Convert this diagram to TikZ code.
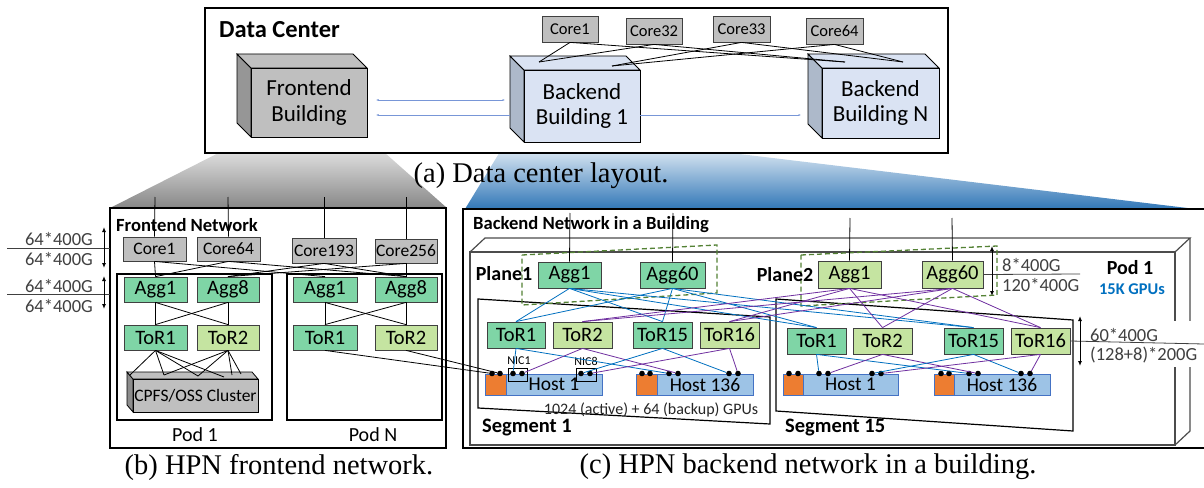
\documentclass[tikz,border=0pt]{standalone}
\usepackage{fontspec}
\setmainfont{Carlito}
\newfontfamily\serifcap{Liberation Serif}
\usetikzlibrary{arrows.meta}
\definecolor{coreg}{RGB}{191,191,191}
\definecolor{aggg}{RGB}{127,213,166}
\definecolor{torlg}{RGB}{197,228,161}
\definecolor{hostb}{RGB}{157,195,230}
\definecolor{hostbd}{RGB}{68,114,196}
\definecolor{orng}{RGB}{237,125,49}
\definecolor{lblue}{RGB}{0,112,192}
\definecolor{lpurp}{RGB}{112,48,160}
\definecolor{dgreen}{RGB}{84,130,53}
\definecolor{txtg}{RGB}{64,64,64}
\definecolor{cubeb}{RGB}{218,227,243}
\definecolor{cubebs}{RGB}{173,185,202}
\definecolor{cubegs}{RGB}{150,150,150}
\definecolor{shblue}{RGB}{46,117,182}
\definecolor{harrc}{RGB}{120,150,215}
\newcommand\fs[1]{\fontsize{#1}{#1}\selectfont}
\newcommand\bx[7]{\node[#6, minimum width={(#4-#2)*1pt}, minimum height={(#5-#3)*1pt}] (#1) at ({(#2+#4)/2},{(#3+#5)/2}) {#7};}
\newcommand\cubex[9]{%
  \filldraw[fill=#8, cubeline] (#2,#3) -- ({#2-#6},{#3-#6}) -- ({#2-#6},{#5-#6}) -- (#2,#5) -- cycle;
  \filldraw[fill=#7, cubeline] (#2,#3) -- ({#2-#6},{#3-#6}) -- ({#4-#6},{#3-#6}) -- (#4,#3) -- cycle;
  \bx{#1}{#2}{#3}{#4}{#5}{cubefront, fill=#7}{#9}}
\begin{document}
\begin{tikzpicture}[x=1pt,y=-1pt,
  sw/.style={draw=black!75, line width=0.8pt, inner sep=0pt},
  corebox/.style={sw, fill=coreg, font=\fs{17.5}},
  aggbox/.style={sw, fill=aggg, font=\fs{20.5}},
  ltbox/.style={sw, fill=torlg, font=\fs{20.5}},
  hostbox/.style={draw=hostbd, line width=0.7pt, fill=hostb, inner sep=0pt, font=\fs{19.5}},
  orbox/.style={draw=hostbd, line width=0.7pt, fill=orng, inner sep=0pt},
  cubeline/.style={draw=black, line width=0.8pt},
  cubefront/.style={draw=black, line width=0.8pt, inner sep=0pt, align=center, font=\fontsize{23}{25.5}\selectfont},
  conn/.style={line width=0.8pt, draw=black},
  bconn/.style={line width=0.8pt, draw=lblue},
  pconn/.style={line width=0.8pt, draw=lpurp},
  harr/.style={line width=0.7pt, draw=harrc},
  darr/.style={line width=1pt, {Latex[length=5pt,width=4pt]}-{Latex[length=5pt,width=4pt]}},
  dotn/.style={circle, fill=black, inner sep=0pt, minimum size=5.6pt},
  lbl/.style={inner sep=0pt, font=\fs{18.5}, text=txtg},
  flbl/.style={inner sep=0pt, font=\fs{18.5}, text=txtg},
  ttl/.style={inner sep=0pt, anchor=west, font=\bfseries\fs{18.6}},
  captxt/.style={inner sep=0pt, font=\serifcap\fs{28.5}},
  planebox/.style={draw=dgreen, line width=1.3pt, dash pattern=on 5pt off 3pt},
  podline/.style={draw=black!70, line width=1.2pt}]
\useasboundingbox (0,0) rectangle (1204,487);
% projection shadings
\shade[top color=black!4, bottom color=black!47] (250,137) -- (367,137) -- (447,208) -- (110,208) -- cycle;
\shade[top color=white, bottom color=shblue] (509,137) -- (640,142) -- (1204,210) -- (465,209) -- cycle;
% ---------------- (a) data center -------------
\filldraw[fill=white, draw=black, line width=1.3pt] (205,8) rectangle (948,153);
\node[inner sep=0pt, anchor=west, font=\bfseries\fs{24.5}] (dct) at (219,30) {Data Center};
\cubex{fe}{251}{68}{367}{137}{14}{coreg}{cubegs}{Frontend\\Building}
\cubex{bb1}{524}{70}{640}{142}{14}{cubeb}{cubebs}{Backend\\Building 1}
\cubex{bbn}{822}{68}{939}{138}{14}{cubeb}{cubebs}{Backend\\Building N}
\bx{c1}{542}{16}{598}{42}{corebox, font=\fs{16.5}}{Core1}
\bx{c32}{626}{18}{682}{44}{corebox, font=\fs{16.5}}{Core32}
\bx{c33}{713}{16}{770}{42}{corebox, font=\fs{16.5}}{Core33}
\bx{c64}{806}{18}{863}{44}{corebox, font=\fs{16.5}}{Core64}
\coordinate (b1p) at (539,62);
\coordinate (b1q) at (612,66);
\coordinate (bnp) at (845,62);
\coordinate (bnq) at (903,62);
\draw[conn] (c1.south) -- (b1p);
\draw[conn] (c32.south) -- (b1p);
\draw[conn] (c33.south) -- (b1q);
\draw[conn] (c64.south) -- (b1q);
\draw[conn] (c1.south) -- (bnp);
\draw[conn] (c32.south) -- (bnp);
\draw[conn] (c33.south) -- (bnq);
\draw[conn] (c64.south) -- (bnq);
\coordinate (h1a) at (376,100);
\coordinate (h1b) at (505,100);
\coordinate (h2a) at (376,115);
\coordinate (h2b) at (510,115);
\coordinate (h3a) at (640,115);
\coordinate (h3b) at (801,115);
\draw[harr, {Latex[length=2.5pt,width=2pt]}-{Latex[length=2.5pt,width=2pt]}] (h1a) -- (h1b);
\draw[harr, {Latex[length=2.5pt,width=2pt]}-] (h2a) -- (h2b);
\draw[harr, -{Latex[length=2.5pt,width=2pt]}] (h3a) -- (h3b);
\node[captxt] (capa) at (541,176) {(a) Data center layout.};
% ---------------- (b) frontend -------------
\filldraw[fill=white, draw=black, line width=1.3pt] (110,208) rectangle (446,448);
\node[ttl] (fnt) at (116,225) {Frontend Network};
\draw[line width=1.2pt] (117,274) rectangle (272,420);
\draw[line width=1.2pt] (287,274) rectangle (442,420);
\node[inner sep=0pt, font=\fs{20}] (pod1l) at (195,435) {Pod 1};
\node[inner sep=0pt, font=\fs{20}] (podnl) at (373,435) {Pod N};
\bx{fc1}{123}{237}{186}{261}{corebox}{Core1}
\bx{fc64}{197}{237}{260}{261}{corebox}{Core64}
\bx{fc193}{292}{238}{356}{263}{corebox}{Core193}
\bx{fc256}{375}{239}{437}{263}{corebox}{Core256}
\foreach \n/\x in {fc1/155, fc64/228, fc193/324, fc256/406} {
  \coordinate (\n top) at (\x,197);
  \draw[conn] (\n top) -- (\n.north);
}
\bx{pa1}{124}{277}{187}{302}{aggbox}{Agg1}
\bx{pa8}{197}{277}{259}{302}{aggbox}{Agg8}
\bx{qa1}{293}{277}{357}{302}{aggbox}{Agg1}
\bx{qa8}{375}{277}{437}{302}{aggbox}{Agg8}
\bx{pt1}{124}{325}{187}{350}{aggbox}{ToR1}
\bx{pt2}{197}{325}{259}{350}{ltbox}{ToR2}
\bx{qt1}{293}{325}{357}{350}{aggbox}{ToR1}
\bx{qt2}{375}{325}{437}{350}{ltbox}{ToR2}
\draw[conn] (fc1.south) -- (pa1.north);
\draw[conn] (fc1.south) -- (qa1.north);
\draw[conn] (fc64.south) -- (pa1.north);
\draw[conn] (fc64.south) -- (qa8.north);
\draw[conn] (fc193.south) -- (pa8.north);
\draw[conn] (fc193.south) -- (qa8.north);
\draw[conn] (fc256.south) -- (pa8.north);
\draw[conn] (fc256.south) -- (qa8.north);
\foreach \a/\b in {pa1/pt1, pa1/pt2, pa8/pt1, pa8/pt2, qa1/qt1, qa1/qt2, qa8/qt1, qa8/qt2}
  \draw[conn] (\a.south) -- (\b.north);
% CPFS cube
\filldraw[fill=black!45, cubeline] (133,379) -- (127,372) -- (127,405) -- (133,412) -- cycle;
\filldraw[fill=coreg, cubeline] (133,379) -- (127,372) -- (252,372) -- (258,379) -- cycle;
\bx{cpfs}{133}{379}{258}{412}{sw, draw=black, fill=coreg, font=\fs{17.5}}{CPFS/OSS Cluster}
\coordinate (cp1) at (130,375);
\coordinate (cp2) at (164,375);
\coordinate (cp3) at (198,376);
\coordinate (cp4) at (224,377);
\coordinate (cp5) at (232,375);
\coordinate (cp6) at (241,374);
\foreach \c in {cp1,cp2,cp3,cp4} \draw[conn] (pt1.south) -- (\c);
\foreach \c in {cp2,cp3,cp5,cp6} \draw[conn] (pt2.south) -- (\c);
% left labels
\node[flbl] (l1) at (59,239) {64*400G};
\node[flbl] (l2) at (59,259) {64*400G};
\node[flbl] (l3) at (59,286) {64*400G};
\node[flbl] (l4) at (59,306) {64*400G};
\coordinate (ln1a) at (7,248); \coordinate (ln1b) at (110,248);
\coordinate (ln2a) at (7,294); \coordinate (ln2b) at (110,294);
\draw[line width=0.8pt, draw=txtg] (ln1a) -- (ln1b);
\draw[line width=0.8pt, draw=txtg] (ln2a) -- (ln2b);
\coordinate (ar1a) at (104,227); \coordinate (ar1b) at (104,268);
\coordinate (ar2a) at (104,276); \coordinate (ar2b) at (104,309);
\draw[darr] (ar1a) -- (ar1b);
\draw[darr] (ar2a) -- (ar2b);
\node[captxt] (capb) at (279,467) {(b) HPN frontend network.};
% ---------------- (c) backend -------------
\fill[white] (463,209) rectangle (1204,448);
\draw[line width=1.3pt] (1204,209) -- (463,209) -- (463,448) -- (1204,448);
\node[ttl] (bnt) at (473,225) {Backend Network in a Building};
% pod 3d box
\draw[podline] (470,252) rectangle (1175,445);
\draw[podline] (470,252) -- (485,238) -- (1190,238) -- (1175,252);
\draw[podline] (1190,238) -- (1190,431) -- (1175,445);
% segments
\filldraw[fill=white, draw=black, line width=1.2pt] (478,299) -- (770,317) -- (770,424) -- (478,408) -- cycle;
\filldraw[fill=white, draw=black, line width=1.2pt] (776,299) -- (1073,320) -- (1073,431) -- (776,411) -- cycle;
% vertical lines from above to aggs
\coordinate (v1) at (570,213);
\coordinate (v2) at (673,213);
\coordinate (v3) at (850,218);
\coordinate (v4) at (952,218);
% plane boxes
\draw[planebox] (522,255) -- (717,245) -- (717,293) -- (522,305) -- cycle;
\draw[planebox] (801,255) -- (997,246) -- (997,295) -- (801,306) -- cycle;
\node[inner sep=0pt, font=\bfseries\fs{20}] (pl1) at (504,274) {Plane1};
\node[inner sep=0pt, font=\bfseries\fs{20}] (pl2) at (785,275) {Plane2};
\bx{ba1}{538}{262}{601}{288}{aggbox}{Agg1}
\bx{ba60}{640}{262}{705}{288}{aggbox}{Agg60}
\bx{ca1}{818}{261}{881}{288}{ltbox}{Agg1}
\bx{ca60}{922}{261}{983}{288}{ltbox}{Agg60}
\draw[conn] (v1) -- (ba1.north);
\draw[conn] (v2) -- (ba60.north);
\draw[conn] (v3) -- (ca1.north);
\draw[conn] (v4) -- (ca60.north);
\bx{s1t1}{487}{322}{545}{348}{aggbox}{ToR1}
\bx{s1t2}{553}{322}{612}{348}{ltbox}{ToR2}
\bx{s1t15}{633}{322}{692}{348}{aggbox}{ToR15}
\bx{s1t16}{700}{322}{759}{348}{ltbox}{ToR16}
\bx{s2t1}{787}{328}{846}{354}{aggbox}{ToR1}
\bx{s2t2}{853}{328}{912}{354}{ltbox}{ToR2}
\bx{s2t15}{944}{328}{1003}{354}{aggbox}{ToR15}
\bx{s2t16}{1011}{328}{1070}{354}{ltbox}{ToR16}
% agg-tor links
\foreach \a in {ba1,ba60} \foreach \t in {s1t1,s1t15,s2t1,s2t15}
  \draw[bconn] (\a.south) -- (\t.north);
\foreach \a in {ca1,ca60} \foreach \t in {s1t2,s1t16,s2t2,s2t16}
  \draw[pconn] (\a.south) -- (\t.north);
% hosts
\bx{h1o}{485}{374}{506}{395}{orbox}{}
\bx{h1}{506}{374}{602}{395}{hostbox}{Host 1}
\bx{h2o}{636}{374}{657}{395}{orbox}{}
\bx{h2}{657}{374}{753}{395}{hostbox}{Host 136}
\bx{g1o}{783}{374}{803}{395}{orbox}{}
\bx{g1}{803}{374}{898}{395}{hostbox}{Host 1}
\bx{g2o}{934}{374}{954}{395}{orbox}{}
\bx{g2}{954}{374}{1050}{395}{hostbox}{Host 136}
\draw[line width=0.7pt] (508,368) rectangle (527,381);
\draw[line width=0.7pt] (576,368) rectangle (596,381);
\node[inner sep=0pt, font=\fs{12}] (nic1) at (519,361) {NIC1};
\node[inner sep=0pt, font=\fs{12}] (nic8) at (586,361) {NIC8};
\foreach \n/\x in {da/492, db/500, dc/513, dd/522, de/581, df/590,
                   ea/642, eb/650, ec/669, ed/678, ee/729, ef/738,
                   fa/789, fb/798, fc/819, fd/828, fe/872, ff/881,
                   ga/941, gb/949, gc/969, gd/978, ge/1021, gf/1030}
  \node[dotn] (\n) at (\x,373.5) {};
\draw[bconn] (s1t1.south) -- (dc);
\draw[bconn] (s1t1.south) -- (ec);
\draw[pconn] (s1t2.south) -- (dd);
\draw[pconn] (s1t2.south) -- (ed);
\draw[bconn] (s1t15.south) -- (de);
\draw[bconn] (s1t15.south) -- (ee);
\draw[pconn] (s1t16.south) -- (df);
\draw[pconn] (s1t16.south) -- (ef);
\draw[bconn] (s2t1.south) -- (fc);
\draw[bconn] (s2t1.south) -- (gc);
\draw[pconn] (s2t2.south) -- (fd);
\draw[pconn] (s2t2.south) -- (gd);
\draw[bconn] (s2t15.south) -- (fe);
\draw[bconn] (s2t15.south) -- (ge);
\draw[pconn] (s2t16.south) -- (ff);
\draw[pconn] (s2t16.south) -- (gf);
% frontend to backend
\draw[conn] (qt1.south) -- (da);
\draw[conn] (qt2.south) -- (db);
\node[inner sep=0pt, font=\fs{16}, text=black!85] (gpus) at (651,410) {1024 (active) + 64 (backup) GPUs};
\node[inner sep=0pt, anchor=west, font=\bfseries\fs{20.5}] (seg1) at (482,428) {Segment 1};
\node[inner sep=0pt, anchor=west, font=\bfseries\fs{20.5}] (seg15) at (785,428) {Segment 15};
% right labels
\node[lbl, anchor=west] (r1) at (1002,265) {8*400G};
\node[lbl, anchor=west] (r2) at (1002,285) {120*400G};
\coordinate (r1e) at (1080,274);
\draw[line width=0.8pt, draw=txtg] (ca60.east) -- (r1e);
\coordinate (r1a) at (992,246); \coordinate (r1b) at (992,296);
\draw[darr] (r1a) -- (r1b);
\node[inner sep=0pt, font=\bfseries\fs{20}] (pod1b) at (1130,268) {Pod 1};
\node[inner sep=0pt, font=\bfseries\fs{16.4}, text=lblue] (gpu15) at (1132,289) {15K GPUs};
\fill[white] (1085,321) rectangle (1204,367);
\node[lbl, anchor=west] (r3) at (1090,335) {60*400G};
\node[lbl, anchor=west] (r4) at (1090,355) {(128+8)*200G};
\coordinate (r3e) at (1204,344);
\draw[line width=0.8pt, draw=txtg] (s2t16.east) -- (r3e);
\coordinate (r3a) at (1080,316); \coordinate (r3b) at (1080,366);
\draw[darr] (r3a) -- (r3b);
\node[captxt] (capc) at (808,467) {(c) HPN backend network in a building.};
\end{tikzpicture}
\end{document}
